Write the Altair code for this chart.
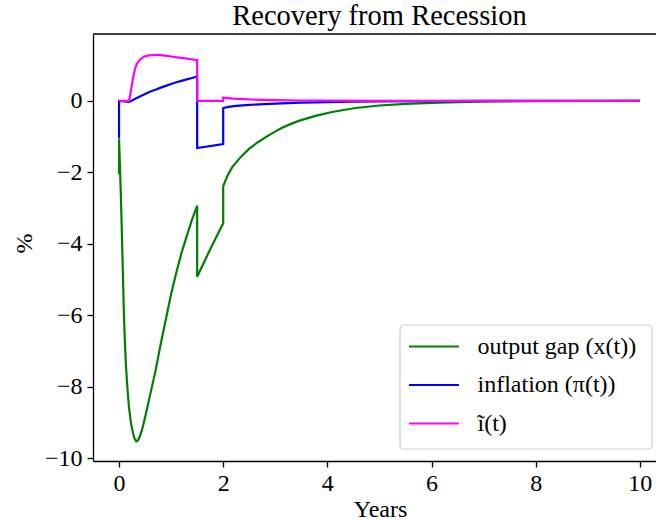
import altair as alt
import pandas as pd

# ---- output gap x(t) ----
t_gap = [0.0, 0.0, 0.01, 0.02, 0.03, 0.04, 0.05, 0.06, 0.07, 0.08, 0.09, 0.10,
         0.11, 0.12, 0.135, 0.152, 0.17, 0.19, 0.215, 0.24, 0.27, 0.30, 0.33,
         0.36, 0.40, 0.44, 0.47, 0.50, 0.60, 0.70, 0.80, 0.90, 1.00, 1.10, 1.20,
         1.30, 1.40, 1.50, 1.50, 1.75, 2.00, 2.00, 2.08, 2.17, 2.33, 2.49, 2.65,
         2.81, 2.97, 3.13, 3.29, 3.45, 3.77, 4.09, 4.54, 5.0, 5.5, 6.0, 6.5,
         7.0, 7.5, 8.0, 9.0, 10.0]
gap = [-2.05, -1.07, -1.50, -1.95, -2.40, -2.90, -3.45, -4.00, -4.60, -5.20,
       -5.75, -6.25, -6.65, -7.00, -7.45, -7.85, -8.20, -8.55, -8.85, -9.10,
       -9.30, -9.45, -9.52, -9.50, -9.38, -9.20, -9.03, -8.85, -8.20, -7.55,
       -6.80, -6.10, -5.40, -4.80, -4.25, -3.78, -3.33, -2.93, -4.92, -4.15,
       -3.42, -2.38, -2.10, -1.86, -1.58, -1.35, -1.17, -1.02, -0.88, -0.75,
       -0.65, -0.56, -0.42, -0.31, -0.20, -0.13, -0.085, -0.055, -0.035,
       -0.022, -0.014, -0.009, -0.003, -0.001]

# ---- inflation pi(t) ----
t_infl = [0.0, 0.0, 0.19, 0.25, 0.30, 0.40, 0.50, 0.60, 0.70, 0.80, 0.90, 1.00,
          1.10, 1.20, 1.30, 1.40, 1.50, 1.50, 2.00, 2.00, 2.10, 2.25, 2.50,
          3.00, 3.50, 4.00, 4.50, 5.00, 6.00, 7.00, 8.00, 10.0]
infl = [-1.05, 0.0, -0.03, 0.01, 0.05, 0.12, 0.19, 0.26, 0.31, 0.37, 0.42,
        0.47, 0.52, 0.56, 0.60, 0.64, 0.68, -1.32, -1.21, -0.20, -0.17, -0.14,
        -0.11, -0.075, -0.05, -0.035, -0.022, -0.014, -0.006, -0.002, 0.0, 0.0]

# ---- interest rate gap i~(t) ----
t_rate = [0.0, 0.19, 0.21, 0.23, 0.25, 0.28, 0.31, 0.35, 0.40, 0.45, 0.50,
          0.57, 0.65, 0.73, 0.85, 1.00, 1.15, 1.30, 1.50, 1.50, 2.00, 2.00,
          2.20, 2.50, 3.00, 3.50, 4.00, 5.00, 10.0]
rate = [0.0, 0.0, 0.12, 0.30, 0.47, 0.72, 0.92, 1.06, 1.15, 1.21, 1.245,
        1.27, 1.283, 1.285, 1.27, 1.24, 1.21, 1.18, 1.14, 0.0, 0.0, 0.09,
        0.065, 0.04, 0.02, 0.01, 0.005, 0.001, 0.0]

series_names = ["output gap (x(t))", "inflation (π(t))", "ĩ(t)"]
series_colors = ["#008000", "#0000ff", "#ff00ff"]

frames = []
for name, tt, vv in zip(series_names, [t_gap, t_infl, t_rate], [gap, infl, rate]):
    frames.append(pd.DataFrame({"t": tt, "v": vv, "series": name, "i": range(len(tt))}))
df = pd.concat(frames, ignore_index=True)

FONT = "Liberation Serif"
W, H = 563, 427

lines = alt.Chart(df).mark_line(strokeWidth=2.2).encode(
    x=alt.X("t:Q", scale=alt.Scale(domain=[-0.5, 10.31], nice=False, zero=False),
            axis=alt.Axis(values=[0, 2, 4, 6, 8, 10], title="Years",
                          titleX=287, titleY=55.7, titleAlign="center",
                          titleBaseline="alphabetic")),
    y=alt.Y("v:Q", scale=alt.Scale(domain=[-10.07, 1.87], nice=False, zero=False),
            axis=alt.Axis(values=[-10, -8, -6, -4, -2, 0], title="%",
                          titleX=-62, titleY=209, titleAngle=270,
                          titleAlign="center", titleBaseline="alphabetic")),
    color=alt.Color("series:N",
                    scale=alt.Scale(domain=series_names, range=series_colors),
                    legend=alt.Legend(title=None, orient="none",
                                      legendX=307, legendY=291)),
    order=alt.Order("i:Q"),
)

# top spine of the axes frame
top_spine = alt.Chart(pd.DataFrame({"k": [0]})).mark_rule(
    color="black", strokeWidth=1.3
).encode(x=alt.value(0), x2=alt.value(W), y=alt.value(0))

# rounded frame behind the legend entries
legend_frame = alt.Chart(pd.DataFrame({"k": [0]})).mark_rect(
    cornerRadius=4, stroke="#cccccc", strokeWidth=1.2, fill="white", fillOpacity=0.8
).encode(x=alt.value(307), x2=alt.value(559), y=alt.value(291), y2=alt.value(415))

chart = alt.layer(lines, top_spine, legend_frame).properties(
    width=W, height=H,
    autosize=alt.AutoSizeParams(type="none"),
    padding={"left": 93, "top": 34, "right": 0, "bottom": 62},
    title=alt.TitleParams("Recovery from Recession", font=FONT, fontSize=28.5,
                          fontWeight="normal", color="black", anchor="middle",
                          baseline="bottom", offset=4, dx=5, dy=30),
).configure_view(stroke=None).configure_axis(
    grid=False, domainColor="black", domainWidth=1.3, tickColor="black",
    tickWidth=1.3, tickSize=6, labelFont=FONT, labelFontSize=24,
    labelColor="black", titleFont=FONT, titleFontSize=24, titleColor="black",
    titleFontWeight="normal",
).configure_axisX(labelPadding=4, labelBaseline="top", labelFlush=False).configure_axisY(
    labelPadding=5, labelFlush=False
).configure_legend(
    symbolType="M-0.694,0H2.083", symbolSize=1296, symbolStrokeWidth=2.2,
    labelFont=FONT, labelFontSize=24, labelColor="black", labelOffset=36.5,
    padding=2, rowPadding=6.5, labelLimit=400,
)

chart.save("out.html", embed_options={"renderer": "svg", "actions": False})
